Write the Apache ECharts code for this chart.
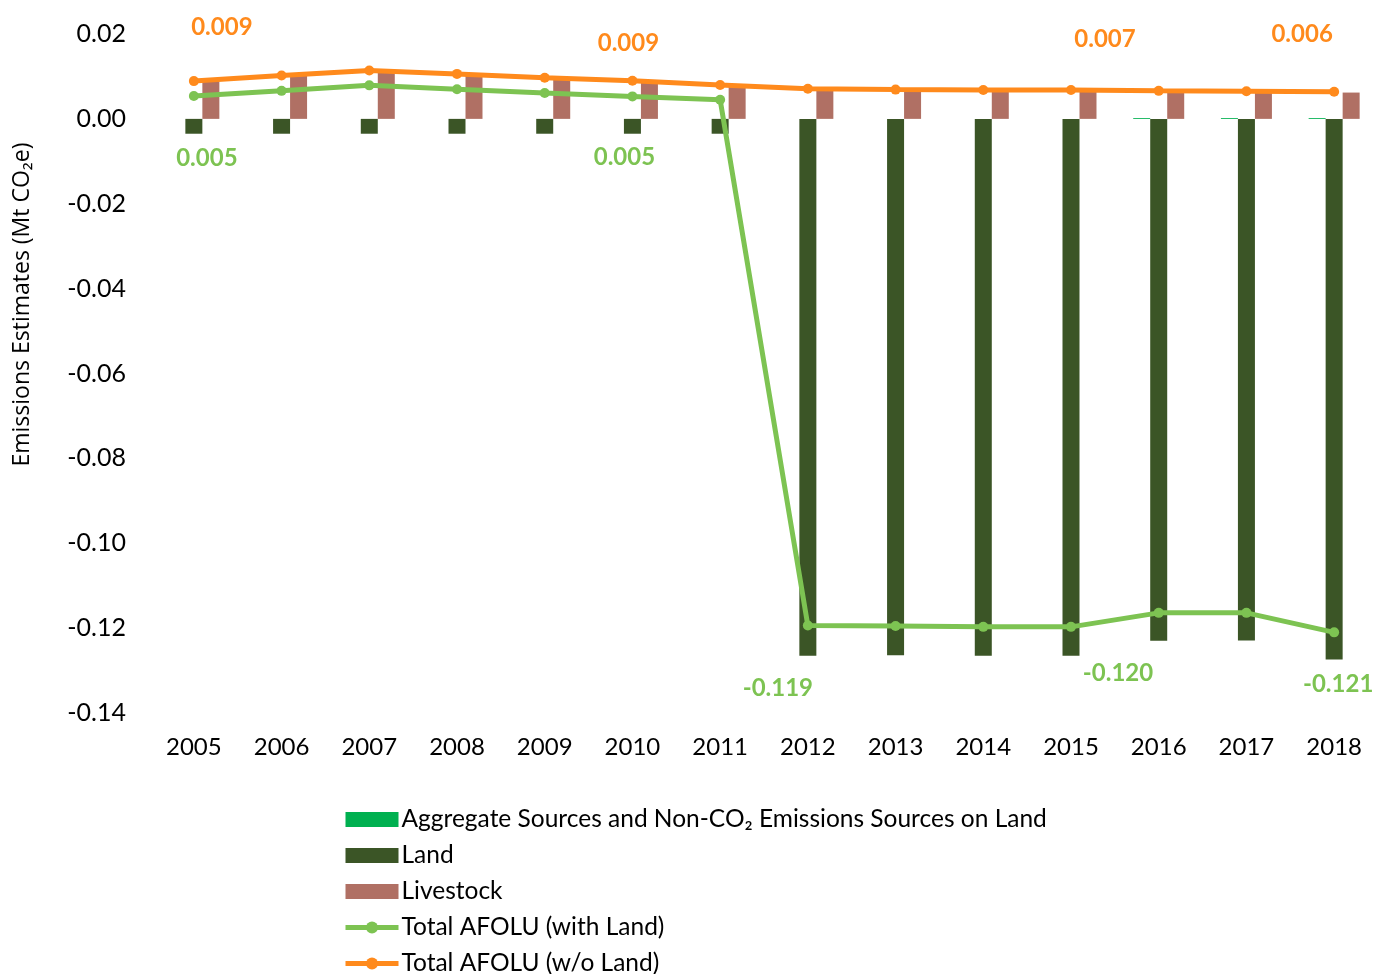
<!DOCTYPE html>
<html>
<head>
<meta charset="utf-8">
<script src="https://cdn.jsdelivr.net/npm/echarts@6/dist/echarts.min.js"></script>
<style>
  html, body { margin: 0; padding: 0; background: #fff; }
  #chart { width: 1390px; height: 974px; }
</style>
</head>
<body>
<div id="chart"></div>
<script>
// Emissions estimates by source, Mt CO2e
const years = ['2005','2006','2007','2008','2009','2010','2011','2012','2013','2014','2015','2016','2017','2018'];

const aggregateSources = [0, 0, 0, 0, 0, 0, 0, 0, 0, 0, 0, 0.0002, 0.0002, 0.0002];
const land = [-0.0035, -0.0035, -0.0035, -0.0035, -0.0035, -0.0035, -0.0035,
              -0.1265, -0.1264, -0.1265, -0.1265, -0.1230, -0.1229, -0.1274];
const livestock = [0.0089, 0.0102, 0.0114, 0.0106, 0.0097, 0.0090, 0.0080,
                   0.0071, 0.0069, 0.0068, 0.0068, 0.0064, 0.0063, 0.0062];
const totalWithLand = [0.0054, 0.0066, 0.0079, 0.0070, 0.0061, 0.0053, 0.0045,
                       -0.1194, -0.1195, -0.1197, -0.1197, -0.1164, -0.1164, -0.1210];
const totalWithoutLand = [0.0089, 0.0102, 0.0114, 0.0106, 0.0097, 0.0090, 0.0080,
                          0.0071, 0.0069, 0.0068, 0.0068, 0.0066, 0.0065, 0.0064];

const yTicks = { min: -0.14, max: 0.02, step: 0.02 };

// Which points carry a value label, and where the label sits relative to its point
const withoutLandLabelOffsets = { 0: [28, -54], 5: [-4, -37], 10: [34, -51], 13: [-32, -57] };
const withLandLabelOffsets = { 0: [13, 62], 5: [-8, 61], 7: [-30, 63], 10: [47, 46], 13: [4, 52] };

const FONT = 'Lato';
const colors = {
  aggregate: '#00B050',
  land: '#3B5526',
  livestock: '#B07064',
  withLand: '#7DC352',
  withoutLand: '#FF8A1C'
};

const names = {
  aggregate: 'Aggregate Sources and Non-CO\u2082 Emissions Sources on Land',
  land: 'Land',
  livestock: 'Livestock',
  withLand: 'Total AFOLU (with Land)',
  withoutLand: 'Total AFOLU (w/o Land)'
};

function labelled(values, offsets, color) {
  return values.map((v, i) => {
    if (!(i in offsets)) return v;
    return {
      value: v,
      label: {
        show: true,
        position: 'inside',
        offset: offsets[i],
        align: 'center',
        verticalAlign: 'middle',
        color: color,
        fontFamily: FONT,
        fontWeight: 'bold',
        fontSize: 24,
        formatter: p => p.value.toFixed(3)
      }
    };
  });
}

const chart = echarts.init(document.getElementById('chart'), null, { renderer: 'canvas' });

chart.setOption({
  animation: false,
  backgroundColor: '#ffffff',
  grid: { left: 150, right: 12, top: 34, bottom: 261, containLabel: false, outerBoundsMode: 'none' },
  legend: {
    orient: 'vertical',
    left: 343,
    top: 807,
    height: 180,
    padding: 0,
    itemWidth: 53,
    itemHeight: 15,
    itemGap: 11,
    lineStyle: { width: 5 },
    textStyle: { fontFamily: FONT, fontSize: 24.5, color: '#000', lineHeight: 22, padding: [0, 0, 0, -2] },
    data: [
      { name: names.aggregate, icon: 'rect' },
      { name: names.land, icon: 'rect' },
      { name: names.livestock, icon: 'rect' },
      names.withLand,
      names.withoutLand
    ]
  },
  xAxis: {
    type: 'category',
    data: years,
    position: 'bottom',
    axisLine: { show: false, onZero: false },
    axisTick: { show: false },
    axisLabel: { color: '#000', fontFamily: FONT, fontSize: 24, margin: 22 },
    splitLine: { show: false }
  },
  yAxis: {
    type: 'value',
    min: yTicks.min,
    max: yTicks.max,
    interval: yTicks.step,
    name: 'Emissions Estimates (Mt CO\u2082e)',
    nameLocation: 'middle',
    nameGap: 116,
    nameRotate: 90,
    nameTextStyle: { color: '#000', fontFamily: 'Open Sans', fontSize: 23, padding: [0, 0, 0, 138] },
    axisLine: { show: false },
    axisTick: { show: false },
    splitLine: { show: false },
    axisLabel: {
      color: '#000', fontFamily: FONT, fontSize: 25, margin: 24,
      formatter: v => v.toFixed(2)
    }
  },
  series: [
    {
      name: names.aggregate,
      type: 'bar',
      data: aggregateSources,
      barWidth: 17,
      barGap: '0%',
      itemStyle: { color: colors.aggregate }
    },
    {
      name: names.land,
      type: 'bar',
      data: land,
      barWidth: 17,
      barGap: '0%',
      itemStyle: { color: colors.land }
    },
    {
      name: names.livestock,
      type: 'bar',
      data: livestock,
      barWidth: 17,
      barGap: '0%',
      itemStyle: { color: colors.livestock }
    },
    {
      name: names.withLand,
      type: 'line',
      data: labelled(totalWithLand, withLandLabelOffsets, colors.withLand),
      symbol: 'circle',
      symbolSize: 10,
      lineStyle: { width: 5, color: colors.withLand },
      itemStyle: { color: colors.withLand },
      z: 5
    },
    {
      name: names.withoutLand,
      type: 'line',
      data: labelled(totalWithoutLand, withoutLandLabelOffsets, colors.withoutLand),
      symbol: 'circle',
      symbolSize: 10,
      lineStyle: { width: 5, color: colors.withoutLand },
      itemStyle: { color: colors.withoutLand },
      z: 6
    }
  ]
});
</script>
</body>
</html>
